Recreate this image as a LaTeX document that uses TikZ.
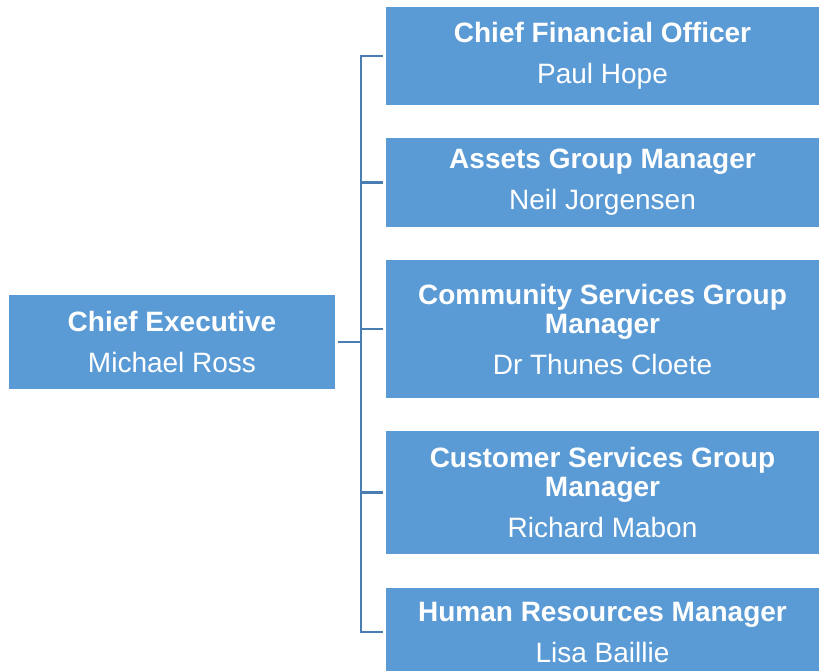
\documentclass[tikz,border=0pt]{standalone}
\usepackage{fontspec}
\setmainfont{Liberation Sans}
\definecolor{boxblue}{HTML}{5B9BD5}
\definecolor{lineblue}{HTML}{4A7DB1}

\begin{document}
\begin{tikzpicture}[x=1pt, y=-1pt,
    post/.style={fill=boxblue, text=white, align=center, inner sep=0pt,
      font=\fontsize{28}{29}\selectfont, minimum width=#1},
    post/.default=433pt,
    link/.style={draw=lineblue, line width=2.2pt}]
    \useasboundingbox (0,0) rectangle (819,671);

    \node[post=326pt, minimum height=94pt] (ceo) at (172,342) {\textbf{Chief Executive}\\[12pt]Michael Ross};

    \node[post, minimum height=98pt] (cfo) at (602.5,56) {\textbf{Chief Financial Officer}\\[12pt]Paul Hope};
    \node[post, minimum height=89pt] (assets) at (602.5,182.5) {\textbf{Assets Group Manager}\\[12pt]Neil Jorgensen};
    \node[post, minimum height=138pt] (community) at (602.5,329) {\textbf{Community Services Group}\\\textbf{Manager}\\[12pt]Dr Thunes Cloete};
    \node[post, minimum height=123pt] (customer) at (602.5,492.5) {\textbf{Customer Services Group}\\\textbf{Manager}\\[12pt]Richard Mabon};
    \node[post, minimum height=88pt] (hr) at (602.5,632) {\textbf{Human Resources Manager}\\[12pt]Lisa Baillie};

    \coordinate (trunk) at (361,0);

    \draw[link, shorten <=3pt] (ceo.east) -- (ceo.east -| trunk);
    \draw[link, shorten <=3pt, shorten >=3pt] (cfo.west) -- (cfo.west -| trunk) -- (hr.west -| trunk) -- (hr.west);
    \foreach \n in {assets, community, customer}
      \draw[link, shorten >=3pt] (\n.west -| trunk) -- (\n.west);
  \end{tikzpicture}
\end{document}
